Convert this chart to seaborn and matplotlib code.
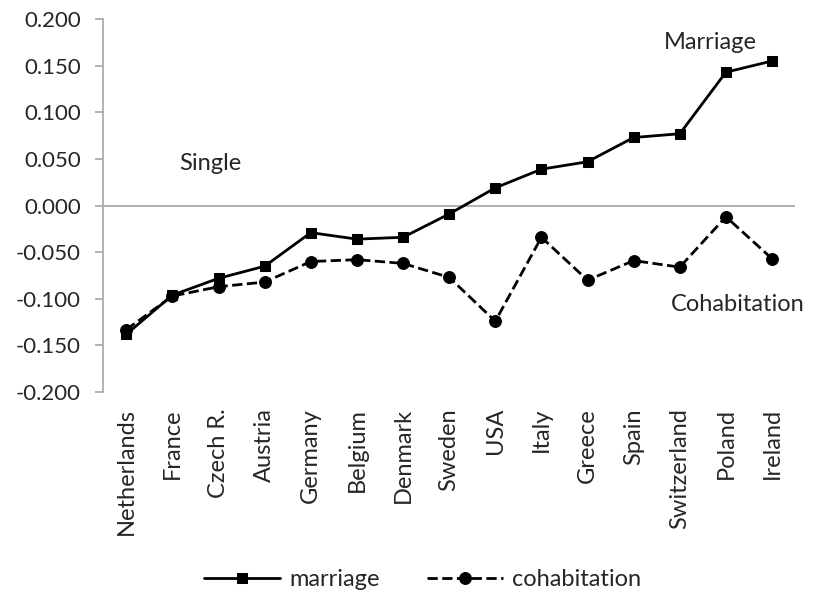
import matplotlib
matplotlib.use("Agg")
import matplotlib.pyplot as plt
import seaborn as sns
import pandas as pd

countries = ["Netherlands", "France", "Czech R.", "Austria", "Germany", "Belgium", "Denmark",
             "Sweden", "USA", "Italy", "Greece", "Spain", "Switzerland", "Poland", "Ireland"]
marriage = [-0.138, -0.096, -0.078, -0.065, -0.029, -0.036, -0.034,
            -0.009, 0.019, 0.039, 0.047, 0.073, 0.077, 0.143, 0.155]
cohabitation = [-0.133, -0.097, -0.087, -0.082, -0.060, -0.058, -0.062,
                -0.077, -0.124, -0.034, -0.080, -0.059, -0.066, -0.012, -0.057]
yticks = [-0.2, -0.15, -0.1, -0.05, 0.0, 0.05, 0.1, 0.15, 0.2]

sns.set_style("white")
plt.rcParams["font.family"] = ["Lato", "DejaVu Sans"]
FS = 16
FT = 17

df = pd.DataFrame({"x": list(range(len(countries))), "marriage": marriage, "cohabitation": cohabitation})

fig = plt.figure(figsize=(8.13, 5.95), dpi=100)
ax = fig.add_axes([0.127, 0.341, 0.851, 0.627])

ax.axhline(0, color="#a6a6a6", lw=1.2, zorder=1)
sns.lineplot(data=df, x="x", y="marriage", ax=ax, color="black", lw=2, marker="s",
             markersize=7.5, markeredgecolor="black", label="marriage", zorder=3)
sns.lineplot(data=df, x="x", y="cohabitation", ax=ax, color="black", lw=2, marker="o",
             markersize=8.5, markeredgecolor="black", linestyle="--", label="cohabitation", zorder=3)

ax.set_xlim(-0.5, len(countries) - 0.5)
ax.set_ylim(-0.2, 0.2)
ax.set_yticks(yticks)
ax.set_yticklabels([f"{v:.3f}" for v in yticks], fontsize=FS)
ax.set_xticks(range(len(countries)))
ax.set_xticklabels(countries, rotation=90, fontsize=FT)
ax.set_xlabel("")
ax.set_ylabel("")
for s in ["top", "right", "bottom"]:
    ax.spines[s].set_visible(False)
ax.spines["left"].set_color("#a6a6a6")
ax.spines["left"].set_linewidth(1.2)
ax.tick_params(axis="y", left=True, length=6, color="#a6a6a6", width=1.2, pad=10)
ax.tick_params(axis="x", bottom=False, pad=8)

ax.text(1.15, 0.038, "Single", fontsize=FT)
ax.text(11.65, 0.168, "Marriage", fontsize=FT)
ax.text(11.8, -0.113, "Cohabitation", fontsize=FT)

ax.legend_.remove()
h, l = ax.get_legend_handles_labels()
fig.legend(h, l, loc="center", bbox_to_anchor=(0.52, 0.026), ncol=2, frameon=False,
           fontsize=FT, handlelength=3.2, columnspacing=2.0, handletextpad=0.4)

fig.savefig("out.png", dpi=100)
